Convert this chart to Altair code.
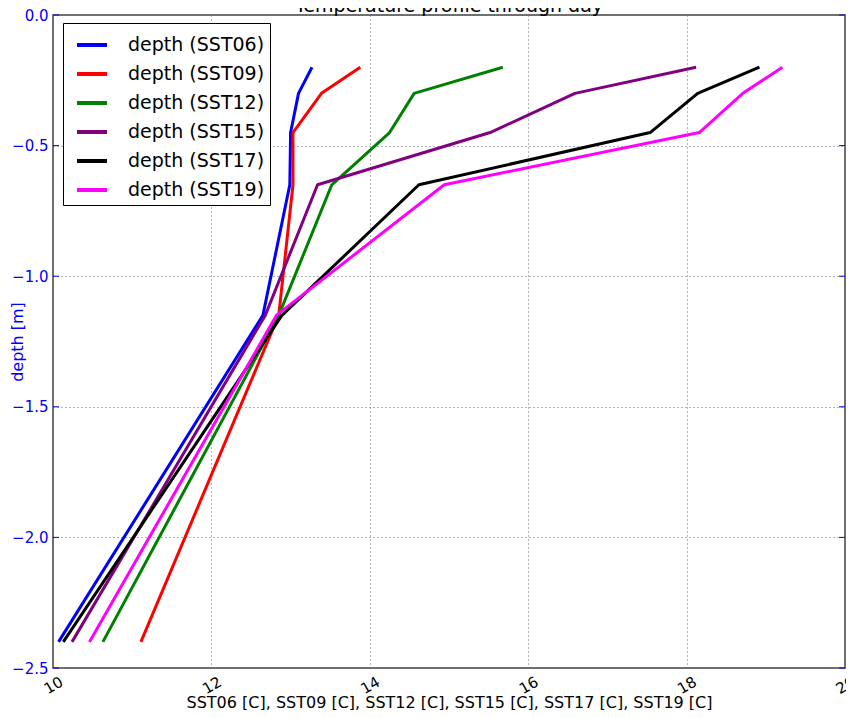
import altair as alt
import pandas as pd

depths = [-0.2, -0.3, -0.45, -0.65, -1.15, -2.4]
series_names = ["depth (SST06)", "depth (SST09)", "depth (SST12)",
                "depth (SST15)", "depth (SST17)", "depth (SST19)"]
sst06 = [13.27, 13.10, 13.00, 12.99, 12.65, 10.07]
sst09 = [13.88, 13.39, 13.03, 13.03, 12.85, 11.11]
sst12 = [15.68, 14.56, 14.25, 13.52, 12.85, 10.63]
sst15 = [18.12, 16.59, 15.52, 13.34, 12.68, 10.24]
sst17 = [18.92, 18.14, 17.54, 14.62, 12.89, 10.13]
sst19 = [19.21, 18.71, 18.16, 14.94, 12.82, 10.46]
colors = ["#0000ff", "#ff0000", "#008000", "#800080", "#000000", "#ff00ff"]
y_ticks = [0.0, -0.5, -1.0, -1.5, -2.0, -2.5]
x_ticks = [10, 12, 14, 16, 18, 20]
title_text = "Temperature profile through day"
x_title = "SST06 [C], SST09 [C], SST12 [C], SST15 [C], SST17 [C], SST19 [C]"
y_title = "depth [m]"

rows = []
for name, vals in zip(series_names, [sst06, sst09, sst12, sst15, sst17, sst19]):
    for i, (t, d) in enumerate(zip(vals, depths)):
        rows.append({"series": name, "temp": t, "depth": d, "idx": i})
df = pd.DataFrame(rows)
ticks_df = pd.DataFrame({"depth": y_ticks})
title_df = pd.DataFrame({"t": [title_text]})

font = "DejaVu Sans"
W, H = 792, 653

xscale = alt.Scale(domain=[10, 20], nice=False, zero=False)
yscale = alt.Scale(domain=[-2.5, 0.0], nice=False, zero=False)

lines = alt.Chart(df).mark_line(strokeWidth=3, strokeJoin="round").encode(
    x=alt.X("temp:Q", scale=xscale,
            axis=alt.Axis(values=x_ticks, title=x_title,
                          labelAngle=330, labelAlign="center", labelBaseline="middle",
                          labelFontSize=15, labelColor="black", labelPadding=17,
                          titleFontSize=16, titleFontWeight="normal", titleColor="black",
                          titleY=39, titleBaseline="alphabetic",
                          grid=True, gridDash=[1, 3], gridColor="#666666",
                          domain=False, tickSize=0)),
    y=alt.Y("depth:Q", scale=yscale,
            axis=alt.Axis(values=y_ticks, format=".1f", title=y_title,
                          labelFontSize=15, labelColor="#0000ff", labelPadding=5,
                          titleFontSize=16, titleFontWeight="normal", titleColor="#0000ff",
                          titleX=-44, titleY=H / 2, titleBaseline="top", titleAngle=270,
                          grid=True, gridDash=[1, 3], gridColor="#666666",
                          domain=False, tickSize=0)),
    color=alt.Color("series:N",
                    scale=alt.Scale(domain=series_names, range=colors),
                    legend=alt.Legend(title=None, orient="none", legendX=10, legendY=8,
                                      symbolType="stroke", symbolSize=900, symbolStrokeWidth=4,
                                      symbolOffset=7,
                                      labelFontSize=19, labelOffset=19, rowPadding=2,
                                      padding=5, fillColor="white", strokeColor="black",
                                      cornerRadius=0)),
    order="idx:Q",
)

left_ticks = alt.Chart(ticks_df).mark_rule(color="#0000ff", strokeWidth=1).encode(
    y=alt.Y("depth:Q", scale=yscale), x=alt.value(0), x2=alt.value(6))
right_ticks = alt.Chart(ticks_df).mark_rule(color="#0000ff", strokeWidth=1).encode(
    y=alt.Y("depth:Q", scale=yscale), x=alt.value(W - 6), x2=alt.value(W))

title = alt.Chart(title_df).mark_text(fontSize=19, font=font, baseline="alphabetic",
                                      align="center", color="black").encode(
    text="t:N", x=alt.value(W / 2), y=alt.value(-3))

chart = alt.layer(lines, left_ticks, right_ticks, title).properties(
    width=W, height=H,
    autosize=alt.AutoSizeParams(type="none"),
    padding={"left": 45, "top": 7, "right": 1, "bottom": 42},
).configure(font=font).configure_view(stroke="#444444", strokeWidth=1.5)

chart.save("out.html", embed_options={"renderer": "svg", "actions": False})
